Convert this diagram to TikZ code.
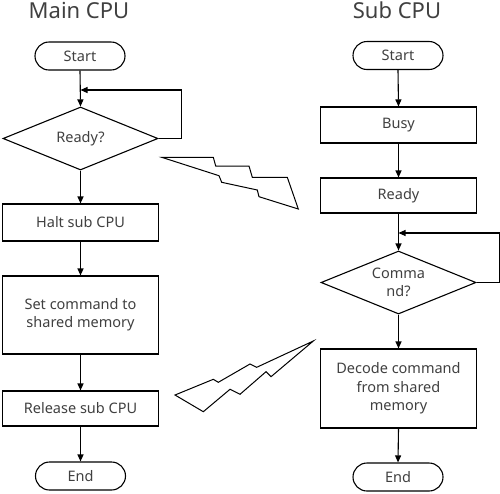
\documentclass[tikz,border=0pt]{standalone}
\usepackage{fontspec}
\setmainfont{Noto Sans}
\usetikzlibrary{shapes.geometric,arrows.meta}
\definecolor{txt}{gray}{0.25}
\begin{document}
\begin{tikzpicture}[x=1pt,y=-1pt,
  every node/.style={text=txt,font=\fontsize{14.5}{18.3}\selectfont},
  proc/.style={draw=black,line width=1.1pt,rectangle,minimum width=156pt,inner sep=0pt,align=center},
  term/.style={draw=black,line width=1.1pt,rectangle,rounded corners=14pt,minimum width=90pt,minimum height=28pt,inner sep=0pt},
  dec/.style={draw=black,line width=1.1pt,diamond,aspect=2.46,minimum width=155pt,minimum height=63pt,inner sep=0pt,align=center},
  title/.style={font=\fontsize{22}{24}\selectfont,anchor=base},
  arr/.style={line width=1.1pt,-{Triangle[length=7pt,width=6pt]}},
  bolt/.style={draw=black,line width=1pt,line join=miter}]
\useasboundingbox (0,0) rectangle (500,493);
% titles
\node[title] (t1) at (79,18) {Main CPU};
\node[title] (t2) at (397,18) {Sub CPU};
% main column
\node[term] (s1) at (80,56) {Start};
\node[dec] (d1) at (80.5,138.5) {Ready?};
\node[proc,minimum height=37pt] (h1) at (80.5,222.5) {Halt sub CPU};
\node[proc,minimum height=78pt] (c1) at (80.5,315) {Set command to\\shared memory};
\node[proc,minimum height=35pt] (r1) at (80.5,408.5) {Release sub CPU};
\node[term] (e1) at (80.5,476) {End};
\coordinate (j1) at (80.5,90);
\draw[arr] (s1.south) -- (d1.north);
\draw[arr] (d1.east) -- ++(23,0) |- (j1);
\draw[arr] (d1.south) -- (h1.north);
\draw[arr] (h1.south) -- (c1.north);
\draw[arr] (c1.south) -- (r1.north);
\draw[arr] (r1.south) -- (e1.north);
% sub column
\node[term] (s2) at (398,55.5) {Start};
\node[proc,minimum height=36pt] (b2) at (398.5,125) {Busy};
\node[proc,minimum height=35pt] (y2) at (398.5,195.5) {Ready};
\node[dec] (d2) at (398.5,282.5) {Comma\\nd?};
\node[proc,minimum height=79pt] (m2) at (398.5,388.5) {Decode command\\from shared\\memory};
\node[term] (e2) at (398,477) {End};
\coordinate (j2) at (398.5,233);
\draw[arr] (s2.south) -- (b2.north);
\draw[arr] (b2.south) -- (y2.north);
\draw[arr] (y2.south) -- (d2.north);
\draw[arr] (d2.east) -- ++(23,0) |- (j2);
\draw[arr] (d2.south) -- (m2.north);
\draw[arr] (m2.south) -- (e2.north);
% lightning bolts
\draw[bolt] (161.7,157.3) -- (213.3,157.3) -- (215.7,166) -- (249,166) -- (252.3,177.3) -- (287.3,177.3) -- (298.3,209) -- (259,196.7) -- (257.3,190) -- (221.7,182.3) -- (219,175.7) -- cycle;
\draw[bolt] (313.3,341) -- (271,376.7) -- (266,371.7) -- (240,394.3) -- (230,389.3) -- (203.3,411.7) -- (175,395) -- (213.3,379.3) -- (218.3,382.3) -- (250,364) -- (256.7,367.3) -- cycle;
\end{tikzpicture}
\end{document}
